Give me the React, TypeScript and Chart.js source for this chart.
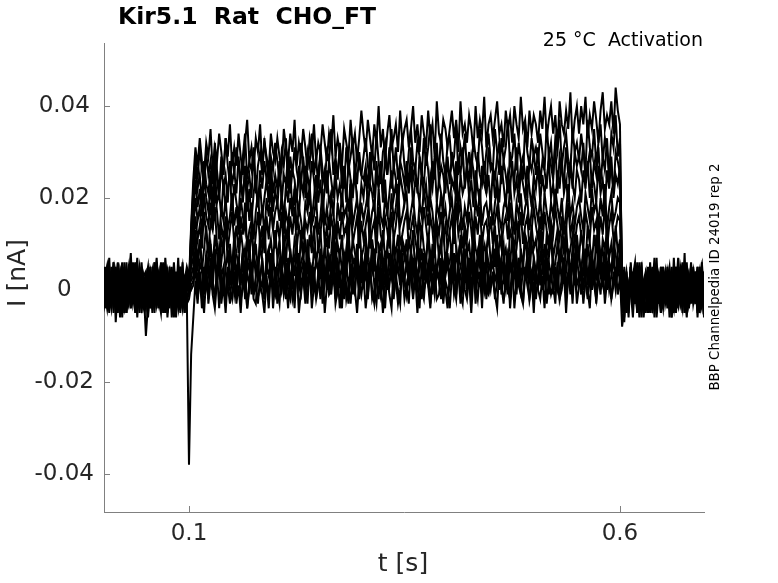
import { useEffect, useRef } from "react";
import { Chart, Plugin, registerables } from "chart.js";
Chart.register(...registerables);

// sample times of every sweep, in s
const times = [
  0, 0.0025, 0.005, 0.0075, 0.01, 0.0125, 0.015, 0.0175, 0.02, 0.0225, 0.025, 0.0275, 0.03, 0.0325, 0.035, 0.0375, 0.04, 0.0425, 0.045, 0.0475,
  0.05, 0.0525, 0.055, 0.0575, 0.06, 0.0625, 0.065, 0.0675, 0.07, 0.0725, 0.075, 0.0775, 0.08, 0.0825, 0.085, 0.0875, 0.09, 0.0925, 0.095, 0.0975,
  0.1, 0.1025, 0.105, 0.1075, 0.11, 0.1125, 0.115, 0.1175, 0.12, 0.1225, 0.125, 0.1275, 0.13, 0.1325, 0.135, 0.1375, 0.14, 0.1425, 0.145, 0.1475,
  0.15, 0.1525, 0.155, 0.1575, 0.16, 0.1625, 0.165, 0.1675, 0.17, 0.1725, 0.175, 0.1775, 0.18, 0.1825, 0.185, 0.1875, 0.19, 0.1925, 0.195, 0.1975,
  0.2, 0.2025, 0.205, 0.2075, 0.21, 0.2125, 0.215, 0.2175, 0.22, 0.2225, 0.225, 0.2275, 0.23, 0.2325, 0.235, 0.2375, 0.24, 0.2425, 0.245, 0.2475,
  0.25, 0.2525, 0.255, 0.2575, 0.26, 0.2625, 0.265, 0.2675, 0.27, 0.2725, 0.275, 0.2775, 0.28, 0.2825, 0.285, 0.2875, 0.29, 0.2925, 0.295, 0.2975,
  0.3, 0.3025, 0.305, 0.3075, 0.31, 0.3125, 0.315, 0.3175, 0.32, 0.3225, 0.325, 0.3275, 0.33, 0.3325, 0.335, 0.3375, 0.34, 0.3425, 0.345, 0.3475,
  0.35, 0.3525, 0.355, 0.3575, 0.36, 0.3625, 0.365, 0.3675, 0.37, 0.3725, 0.375, 0.3775, 0.38, 0.3825, 0.385, 0.3875, 0.39, 0.3925, 0.395, 0.3975,
  0.4, 0.4025, 0.405, 0.4075, 0.41, 0.4125, 0.415, 0.4175, 0.42, 0.4225, 0.425, 0.4275, 0.43, 0.4325, 0.435, 0.4375, 0.44, 0.4425, 0.445, 0.4475,
  0.45, 0.4525, 0.455, 0.4575, 0.46, 0.4625, 0.465, 0.4675, 0.47, 0.4725, 0.475, 0.4775, 0.48, 0.4825, 0.485, 0.4875, 0.49, 0.4925, 0.495, 0.4975,
  0.5, 0.5025, 0.505, 0.5075, 0.51, 0.5125, 0.515, 0.5175, 0.52, 0.5225, 0.525, 0.5275, 0.53, 0.5325, 0.535, 0.5375, 0.54, 0.5425, 0.545, 0.5475,
  0.55, 0.5525, 0.555, 0.5575, 0.56, 0.5625, 0.565, 0.5675, 0.57, 0.5725, 0.575, 0.5775, 0.58, 0.5825, 0.585, 0.5875, 0.59, 0.5925, 0.595, 0.5975,
  0.6, 0.6025, 0.605, 0.6075, 0.61, 0.6125, 0.615, 0.6175, 0.62, 0.6225, 0.625, 0.6275, 0.63, 0.6325, 0.635, 0.6375, 0.64, 0.6425, 0.645, 0.6475,
  0.65, 0.6525, 0.655, 0.6575, 0.66, 0.6625, 0.665, 0.6675, 0.67, 0.6725, 0.675, 0.6775, 0.68, 0.6825, 0.685, 0.6875, 0.69, 0.6925, 0.695, 0.6975,
  0.7,
];

// current of each sweep in pA, one value per sample time
const sweep1 = [
  3, -3, 1, 7, -4, 2, 0, -2, 4, -6, 1, 3, -1, 4, -3, 2, -4, 0, 6, -1,
  -2, 4, 0, -3, 2, 7, -1, 3, -5, 1, 2, -2, 4, -1, -6, 3, 1, -3, 2, 0,
  2,
  14, 24, 31, 27, 33, 28, 25, 32, 29, 35, 26, 31, 28, 34, 30, 25, 33, 29, 36, 27,
  31, 27, 34, 29, 25, 32, 37, 28, 31, 26, 33, 30, 36, 27, 32, 29, 26, 34, 30, 28,
  33, 29, 26, 35, 31, 28, 34, 30, 37, 27, 32, 29, 35, 31, 26, 33, 30, 36, 28, 32,
  30, 36, 32, 28, 34, 31, 38, 29, 33, 30, 27, 35, 32, 29, 37, 31, 34, 28, 33, 39,
  34, 30, 37, 33, 29, 36, 32, 40, 31, 35, 28, 34, 38, 31, 33, 36, 30, 39, 32, 35,
  37, 31, 35, 40, 32, 36, 30, 38, 34, 31, 39, 33, 36, 29, 41, 34, 32, 37, 35, 31,
  35, 39, 33, 37, 30, 41, 34, 36, 32, 38, 35, 30, 40, 33, 37, 34, 42, 31, 36, 38,
  33, 37, 41, 34, 36, 31, 39, 35, 38, 32, 40, 36, 33, 42, 35, 37, 31, 39, 34, 38,
  36, 32, 39, 35, 42, 33, 37, 40, 34, 38, 31, 41, 36, 34, 39, 35, 43, 32, 37, 40,
  34, 40, 36, 42, 33, 38, 35, 41, 37, 32, 39, 43, 35, 38, 36, 41, 34, 44, 39, 36,
  -2, -7, 3, -4, 6, -1, 2, -3, 0, 4, -6, 1, 3, -2, -4, 2, 7, -3, 1, -1,
  3, -2, 1, -6, 4, 0, -3, 2, 6, -1, -4, 3, 0, 2, -3, 5, -2, 1, -5, 3,
];
const sweep2 = [
  -6, 2, 4, -1, 3, -3, 1, 5, -2, 0, 3, -4, 2, 8, -3, 1, -1, 4, -2, 3,
  0, -5, 3, 2, -1, 6, -3, 1, 4, -2, 0, 3, -6, 1, 2, -3, 5, 0, -2, 3,
  -1,
  13, 22, 29, 24, 31, 26, 22, 30, 25, 28, 23, 32, 26, 21, 29, 25, 33, 27, 23, 30,
  25, 31, 27, 22, 29, 34, 24, 28, 26, 31, 21, 27, 30, 25, 33, 28, 23, 29, 26, 32,
  28, 24, 30, 27, 33, 22, 29, 25, 31, 26, 23, 32, 28, 24, 30, 27, 34, 25, 29, 22,
  31, 26, 23, 30, 28, 35, 25, 29, 24, 32, 27, 22, 31, 26, 29, 33, 24, 30, 27, 25,
  29, 33, 27, 24, 31, 26, 34, 28, 23, 30, 32, 25, 29, 35, 26, 31, 24, 28, 33, 27,
  24, 30, 35, 28, 26, 32, 29, 25, 33, 27, 31, 36, 24, 29, 30, 26, 34, 28, 25, 32,
  33, 27, 29, 36, 25, 31, 28, 34, 26, 30, 24, 33, 29, 27, 35, 31, 25, 30, 34, 28,
  26, 35, 30, 25, 33, 28, 31, 37, 27, 29, 34, 26, 32, 28, 24, 36, 30, 27, 33, 29,
  31, 28, 34, 30, 26, 36, 29, 32, 25, 33, 30, 37, 27, 31, 34, 28, 26, 35, 30, 32,
  28, 34, 30, 26, 37, 31, 29, 35, 27, 32, 36, 28, 33, 30, 25, 34, 31, 38, 29, 33,
  1, -4, 3, -1, 5, -3, 0, 2, -6, 4, -2, 1, 3, -3, 0, 7, -4, 2, -1, 3,
  -3, 0, 4, -6, 2, 1, -2, 5, -1, 3, -4, 0, 6, -2, 2, -3, 1, 4, -6, 0,
];
const sweep3 = [
  2, 0, -3, 4, -1, 6, -7, 1, 2, -2, 5, -4, 0, 3, -1, -3, 4, 1, -5, 2,
  -1, 3, -4, 0, 6, -2, 2, -3, 1, 4, -6, 0, 2, 3, -2, 7, -4, 1, 0, -3,
  1,
  12, 20, 27, 22, 25, 19, 28, 23, 21, 26, 18, 29, 24, 20, 27, 22, 25, 19, 28, 23,
  26, 21, 29, 24, 19, 27, 22, 25, 20, 30, 23, 18, 26, 22, 28, 24, 20, 27, 21, 25,
  22, 28, 19, 25, 23, 30, 21, 26, 24, 19, 27, 23, 29, 20, 25, 22, 28, 24, 18, 26,
  29, 23, 26, 21, 28, 24, 20, 27, 25, 31, 22, 26, 19, 28, 24, 21, 27, 23, 30, 25,
  24, 27, 22, 30, 25, 20, 28, 23, 26, 21, 29, 25, 31, 22, 27, 24, 20, 28, 26, 23,
  28, 22, 31, 24, 27, 21, 29, 25, 23, 30, 26, 20, 28, 24, 32, 23, 27, 25, 21, 29,
  23, 30, 26, 21, 28, 25, 31, 22, 27, 24, 29, 26, 20, 30, 25, 23, 28, 21, 31, 26,
  27, 24, 29, 32, 23, 28, 25, 21, 30, 26, 24, 31, 22, 27, 29, 25, 20, 28, 26, 30,
  25, 31, 23, 28, 26, 22, 30, 27, 24, 32, 21, 29, 26, 23, 31, 25, 28, 22, 30, 27,
  29, 26, 32, 24, 27, 30, 22, 28, 25, 31, 23, 29, 26, 33, 24, 27, 21, 30, 28, 25,
  -3, 1, 4, -2, 0, -6, 3, 2, -1, 6, -3, 0, 5, -4, 2, -2, 3, -1, -5, 1,
  4, -2, 1, 3, -4, 0, 7, -3, 2, -1, -6, 3, 1, 4, -2, 0, -3, 6, -1, 2,
];
const sweep4 = [
  -4, 1, 3, -2, 5, -3, 0, 4, -6, 2, -1, 3, 1, -4, 6, -2, 2, -3, 5, 0,
  2, -6, 1, 4, -3, 0, 3, -1, -4, 7, 1, -2, 3, -5, 0, 4, -3, 1, -2, 4,
  0,
  10, 17, 24, 18, 22, 16, 25, 20, 17, 23, 15, 26, 19, 21, 16, 24, 18, 22, 25, 17,
  23, 19, 16, 24, 20, 26, 17, 22, 15, 21, 25, 18, 23, 16, 20, 24, 19, 27, 17, 22,
  18, 25, 21, 15, 23, 19, 26, 17, 22, 20, 16, 24, 21, 27, 18, 23, 15, 20, 25, 19,
  24, 17, 22, 26, 19, 21, 16, 25, 20, 23, 18, 27, 22, 17, 24, 20, 26, 19, 16, 23,
  20, 26, 18, 23, 21, 17, 25, 22, 28, 19, 24, 16, 21, 26, 20, 23, 18, 25, 22, 19,
  25, 21, 27, 18, 24, 22, 19, 26, 20, 23, 17, 25, 22, 28, 19, 24, 21, 18, 26, 23,
  19, 24, 22, 28, 17, 25, 21, 23, 27, 20, 24, 18, 26, 22, 19, 27, 23, 21, 25, 18,
  26, 20, 24, 19, 27, 23, 18, 25, 22, 28, 21, 24, 19, 26, 23, 20, 27, 22, 18, 25,
  22, 27, 19, 25, 21, 24, 28, 20, 23, 18, 26, 22, 29, 21, 24, 19, 27, 23, 20, 26,
  24, 19, 26, 22, 28, 20, 25, 23, 19, 27, 21, 24, 18, 26, 22, 29, 20, 25, 23, 27,
  4, -2, 0, -5, 3, 1, -3, 6, -1, 2, -5, 3, 0, -2, 4, -6, 1, 2, -3, 0,
  -2, 3, -6, 1, 5, -1, 2, -3, 0, 6, -4, 1, 3, -2, -1, 4, -3, 0, 2, -5,
];
const sweep5 = [
  1, -4, 3, 0, -2, 6, -3, 2, 4, -1, 1, -5, 3, 2, -3, 0, 7, -2, -4, 1,
  -3, 2, 4, -1, 3, -4, 1, 6, -2, 0, -3, 4, 2, -6, 1, 3, -1, -4, 2, 5,
  3,
  8, 13, 20, 15, 18, 12, 21, 16, 14, 19, 13, 22, 17, 11, 18, 15, 20, 13, 16, 21,
  14, 18, 12, 20, 16, 13, 22, 15, 19, 11, 17, 21, 14, 18, 12, 20, 16, 23, 13, 17,
  19, 15, 21, 12, 17, 14, 20, 16, 22, 13, 18, 15, 11, 19, 17, 21, 14, 16, 20, 12,
  16, 22, 14, 18, 13, 20, 17, 11, 19, 15, 21, 16, 18, 12, 23, 14, 17, 20, 13, 19,
  15, 18, 21, 13, 17, 19, 12, 22, 16, 14, 20, 17, 13, 21, 15, 18, 23, 14, 16, 19,
  21, 13, 17, 20, 15, 12, 19, 16, 22, 18, 14, 20, 17, 11, 19, 16, 21, 15, 18, 13,
  17, 20, 14, 23, 16, 19, 13, 18, 15, 21, 17, 12, 20, 16, 22, 14, 18, 19, 15, 20,
  14, 19, 22, 16, 13, 18, 20, 15, 23, 17, 12, 19, 16, 21, 14, 18, 20, 13, 17, 22,
  18, 15, 20, 13, 21, 17, 14, 19, 16, 22, 18, 15, 20, 12, 17, 23, 16, 19, 14, 18,
  20, 16, 13, 21, 18, 15, 22, 17, 19, 14, 20, 16, 23, 13, 18, 21, 15, 17, 20, 19,
  -2, 5, -4, 1, -1, 3, 6, -3, 0, -6, 2, 4, -2, 1, -4, 3, 0, -1, 5, -3,
  3, -1, 1, -4, 7, -2, 0, 3, -5, 2, 4, -3, 1, -1, 3, -6, 2, 5, -2, 0,
];
const sweep6 = [
  -2, 3, 5, -4, 1, -1, 4, -3, 2, 6, -5, 0, 3, -2, 1, 4, -6, 2, -1, 3,
  4, -3, 1, 2, -5, 3, 0, -2, 6, -4, 1, 3, -1, -3, 4, 0, -5, 2, 3, -2,
  -1,
  6, 10, 16, 11, 14, 9, 17, 12, 8, 15, 13, 18, 10, 7, 14, 11, 16, 9, 13, 17,
  10, 14, 8, 16, 12, 19, 9, 13, 15, 7, 12, 17, 10, 14, 8, 16, 11, 18, 13, 9,
  15, 11, 17, 8, 13, 10, 16, 12, 18, 9, 14, 11, 7, 15, 13, 17, 10, 12, 16, 8,
  12, 18, 10, 14, 9, 16, 13, 7, 15, 11, 17, 12, 14, 8, 19, 10, 13, 16, 9, 15,
  11, 14, 17, 9, 13, 15, 8, 18, 12, 10, 16, 13, 9, 17, 11, 14, 19, 10, 12, 15,
  17, 9, 13, 16, 11, 8, 15, 12, 18, 14, 10, 16, 13, 7, 15, 12, 17, 11, 14, 9,
  13, 16, 10, 19, 12, 15, 9, 14, 11, 17, 13, 8, 16, 12, 18, 10, 14, 15, 11, 16,
  10, 15, 18, 12, 9, 14, 16, 11, 19, 13, 8, 15, 12, 17, 10, 14, 16, 9, 13, 18,
  14, 11, 16, 9, 17, 13, 10, 15, 12, 18, 14, 11, 16, 8, 13, 19, 12, 15, 10, 14,
  16, 12, 9, 17, 14, 11, 18, 13, 15, 10, 16, 12, 19, 9, 14, 17, 11, 13, 16, 15,
  3, -3, 1, -6, 4, 2, -2, 0, 6, -4, 1, 3, -3, 2, -1, 4, -6, 0, 3, -2,
  -1, 5, -3, 2, 0, -5, 3, 1, -2, 8, -5, 2, 0, 3, -3, 1, 4, -2, 0, 3,
];
const sweep7 = [
  5, -1, -4, 2, 3, -3, 0, 6, -2, 4, -5, 1, 2, -3, 5, -1, -2, 4, -4, 2,
  -1, 4, 2, -5, 0, 3, -2, 5, -3, 1, 4, -1, -4, 3, 0, 2, -3, 6, -2, 1,
  1,
  5, 7, 13, 6, 11, 4, 9, 14, 7, 10, 5, 12, 8, 3, 11, 9, 14, 6, 10, 4,
  12, 8, 5, 13, 9, 3, 11, 7, 14, 6, 10, 4, 12, 9, 15, 5, 8, 11, 6, 13,
  7, 10, 4, 12, 6, 14, 8, 5, 11, 9, 3, 13, 7, 10, 5, 12, 8, 14, 6, 9,
  13, 5, 9, 11, 4, 8, 14, 6, 10, 7, 12, 3, 9, 13, 6, 11, 8, 5, 15, 7,
  9, 12, 6, 14, 8, 4, 11, 10, 5, 13, 7, 9, 15, 4, 10, 8, 12, 6, 11, 9,
  5, 11, 8, 13, 3, 10, 7, 14, 9, 6, 12, 8, 4, 11, 13, 7, 9, 15, 5, 10,
  12, 7, 15, 9, 6, 11, 4, 13, 8, 10, 5, 14, 9, 7, 12, 3, 10, 8, 13, 6,
  8, 14, 5, 10, 12, 7, 9, 4, 13, 11, 6, 9, 15, 8, 5, 12, 10, 7, 14, 9,
  11, 6, 13, 8, 4, 12, 9, 15, 7, 10, 13, 5, 11, 8, 14, 6, 9, 12, 4, 10,
  7, 13, 9, 5, 14, 10, 6, 12, 8, 15, 4, 11, 9, 13, 7, 10, 5, 14, 8, 11,
  -5, 3, -2, 1, 4, -3, 0, 5, -4, 2, -1, 3, -5, 0, 4, -2, 1, -3, 5, -1,
  2, -4, 0, 3, -2, 5, -3, 1, -1, 4, -5, 2, 3, -3, 1, 5, -2, -4, 3, 0,
];
const sweep8 = [
  -2, 5, 1, -3, 4, -5, 2, 0, 3, -2, -4, 4, 1, -1, 5, -3, 2, -5, 3, 1,
  3, 0, -4, 5, -1, 2, 4, -3, 1, -5, 3, 2, -2, 6, -1, -4, 2, 5, -3, 0,
  0,
  3, 5, 9, 4, 11, 6, 2, 8, 5, 10, 3, 7, 1, 9, 6, 11, 4, 2, 8, 5,
  10, 3, 7, 1, 6, 9, 4, 11, 2, 8, 5, 3, 10, 6, 1, 7, 9, 4, 8, 2,
  6, 11, 3, 8, 5, 1, 9, 4, 7, 10, 2, 6, 8, 3, 11, 5, 2, 9, 6, 4,
  8, 2, 10, 5, 7, 3, 11, 6, 1, 9, 4, 8, 6, 12, 3, 7, 5, 10, 2, 8,
  4, 9, 6, 2, 11, 7, 3, 8, 10, 5, 1, 9, 6, 4, 12, 3, 8, 5, 10, 7,
  11, 3, 8, 6, 1, 10, 5, 9, 2, 7, 12, 4, 6, 9, 3, 8, 11, 2, 7, 5,
  6, 10, 2, 8, 5, 12, 4, 7, 9, 1, 6, 11, 3, 8, 5, 10, 2, 9, 6, 4,
  9, 5, 12, 3, 7, 10, 2, 8, 6, 11, 4, 7, 1, 9, 5, 12, 6, 3, 10, 7,
  2, 8, 11, 6, 4, 9, 7, 12, 3, 6, 10, 5, 8, 2, 11, 7, 4, 9, 6, 12,
  7, 4, 9, 1, 10, 6, 8, 3, 12, 5, 7, 9, 2, 11, 6, 4, 10, 8, 3, 9,
  1, -5, 4, -2, 2, -4, 5, 0, -3, 3, -1, -5, 2, 4, -2, 1, -4, 3, 0, 5,
  -3, 2, 5, -1, -4, 3, 1, -2, 4, -5, 0, 3, -3, 5, 1, -2, -4, 2, 4, -1,
];
const sweep9 = [
  3, -3, 0, 5, -2, 1, 4, -4, 2, -1, 3, -5, 1, 4, -3, 6, -2, 0, 2, -4,
  1, -2, 5, -4, 3, 0, -3, 2, 4, -1, -3, 5, 1, -4, 2, 3, -2, 0, -5, 4,
  2,
  2, 3, 8, 1, 6, 4, -1, 7, 3, 5, 0, 9, 2, 6, 4, -1, 5, 8, 2, 4,
  7, 0, 5, 3, 9, 1, 4, 6, -1, 8, 3, 5, 2, 7, 0, 4, 9, 2, 6, 3,
  0, 6, 4, 8, 2, 5, -1, 7, 3, 9, 1, 4, 6, 0, 8, 3, 5, 2, 7, 4,
  9, 2, 5, 0, 7, 4, 8, 1, 6, 3, -1, 7, 4, 9, 2, 5, 3, 8, 0, 6,
  3, 8, 1, 6, 4, 9, 2, 5, 0, 7, 4, 2, 8, 3, 6, 1, 9, 4, 5, 2,
  6, 1, 9, 3, 5, 0, 7, 4, 8, 2, 6, 3, 10, 1, 5, 7, 2, 6, 4, 8,
  2, 7, 4, 0, 8, 5, 3, 9, 1, 6, 4, 7, 2, 5, 9, 3, 0, 8, 4, 6,
  5, 9, 2, 7, 3, 6, 0, 8, 4, 5, 9, 1, 7, 3, 6, 2, 8, 5, 1, 7,
  4, 1, 8, 5, 10, 2, 6, 3, 7, 0, 5, 8, 2, 6, 4, 9, 3, 7, 1, 6,
  8, 3, 5, 9, 1, 7, 4, 6, 2, 10, 3, 5, 8, 0, 6, 4, 9, 2, 7, 5,
  -4, 1, 3, -3, 5, -1, 2, -5, 0, 4, -2, 3, -4, 1, 5, -3, 0, 2, -1, -4,
  4, -1, -3, 2, 0, 5, -4, 1, 3, -2, 6, -3, 0, -1, 4, -5, 2, 3, -2, 1,
];
const sweep10 = [
  -1, 4, -4, 2, 0, -3, 5, 1, -5, 3, -2, 2, 5, -4, 0, 3, -3, 1, 4, -1,
  -4, 3, 1, -2, 6, -3, 0, 4, -1, -5, 2, 4, -2, 1, -4, 5, -1, 3, 0, -3,
  -2,
  1, 2, 6, 0, 4, -2, 5, 1, -1, 7, 2, -2, 4, 6, 0, 3, -3, 5, 1, 7,
  2, -1, 5, 3, 8, -2, 4, 1, 6, -1, 3, 7, 0, 2, -2, 5, 3, 8, 1, -1,
  4, 6, 0, 3, -2, 7, 2, 5, -1, 4, 8, 1, 3, -1, 6, 2, 0, 5, -2, 4,
  7, 1, 3, 6, -1, 4, 2, 8, 0, 3, 5, -2, 6, 1, 4, -1, 7, 3, 0, 5,
  2, 6, -1, 4, 8, 1, 3, -2, 5, 2, 7, 0, 4, 6, -1, 3, 5, 1, 8, 2,
  -1, 5, 3, 7, 0, 4, 2, -2, 6, 3, 1, 8, -1, 4, 5, 2, 7, 0, 3, 6,
  1, 4, 8, -1, 5, 3, 0, 6, 2, 7, -2, 4, 1, 5, 8, 0, 3, 6, -1, 4,
  6, 2, 4, 0, 7, 3, 5, -1, 8, 2, 4, 6, 1, -1, 5, 3, 7, 2, 4, 0,
  3, 7, 1, 5, 2, 8, -1, 4, 6, 2, 0, 5, 3, 7, 1, 4, -1, 6, 3, 8,
  2, 5, 0, 6, 4, 1, 7, 3, -1, 5, 8, 2, 4, 6, 0, 3, 7, 1, 5, 4,
  2, -6, 3, -1, 0, 4, -3, 1, 5, -2, -4, 3, 0, 2, -5, 4, -1, 1, -3, 5,
  -2, 4, 1, -5, 3, 0, -3, 5, 2, -1, 4, -4, 1, 3, -2, 0, 5, -3, 2, -1,
];
const sweep11 = [
  4, -2, 1, -5, 3, 5, -3, 0, 2, -4, 6, -1, -3, 2, 4, -5, 1, 3, -2, -4,
  2, 5, -3, 1, -1, 4, -2, -5, 3, 0, 2, -4, 5, -1, 1, -3, 4, 2, -5, 3,
  1,
  0, 1, 5, -2, 3, -4, 1, 6, -3, 2, 0, -1, 4, -4, 3, 5, -2, 1, -3, 4,
  -1, 3, 6, -2, 0, 4, -4, 2, 5, -1, 1, -3, 3, 6, -2, 2, -4, 4, 0, 5,
  -3, 2, 4, -1, 6, 0, -2, 3, -4, 5, 1, -1, 4, 2, -3, 6, 0, 3, -2, 1,
  5, -3, 2, 4, -1, 0, 6, -2, 3, -4, 2, 5, 1, -3, 4, 0, -1, 6, -2, 3,
  1, 4, -2, 5, 0, -3, 3, 6, -1, 2, -4, 4, 1, 5, -2, 3, 0, -3, 6, 2,
  -1, 5, 3, -2, 4, 1, -4, 6, 0, 2, 5, -3, 3, -1, 4, 2, -2, 5, 0, -4,
  3, 6, -1, 2, 4, -3, 5, 0, -2, 3, 1, 6, -3, 4, 2, -1, 5, -2, 3, 0,
  4, -2, 2, 6, -1, 3, 0, 5, -4, 2, 4, -1, 6, 1, -3, 3, 5, -2, 1, 4,
  -2, 3, 5, 0, 6, -3, 2, 4, -1, 5, 1, -2, 3, 7, -1, 2, 4, -3, 6, 1,
  3, -1, 5, 2, -2, 6, 0, 4, -3, 3, 5, 1, -1, 6, 2, -2, 4, 0, 5, 2,
  -3, 2, -5, 1, 4, -2, 0, -4, 3, 5, -3, 1, -1, -5, 2, 4, -2, 0, 3, -4,
  1, -3, 4, 2, -5, 0, 3, -1, -4, 5, -2, 1, 3, -3, 0, 4, -5, 2, -1, 3,
];
const sweep12 = [
  -3, 2, 5, -1, -4, 3, 0, -5, 4, 1, -2, 6, -3, -1, 3, -4, 2, 5, -2, 0,
  -10, -3, 4, 1, -2, 5, -4, 2, -1, 3, -5, 0, 4, -3, 2, -1, 5, -4, 1, -2,
  -38,
  -14, -6, 2, -3, 4, 0, -5, 3, -2, 5, -1, -4, 2, 6, -3, 1, -5, 3, 0, -2,
  4, -3, 1, -5, 3, 2, -4, 0, 5, -2, -3, 4, 1, -1, -5, 3, -2, 6, -4, 2,
  0, -3, 5, -1, 2, -4, 3, -2, 1, 4, -5, 0, 3, -3, 2, 5, -4, 1, -1, 3,
  -2, 4, -5, 1, 3, -1, 5, -3, 0, 2, -4, 6, -2, 1, -3, 4, 0, -5, 2, -1,
  3, -4, 1, 5, -2, 0, -3, 4, 2, -5, 1, 3, -1, -4, 5, 2, -3, 0, 4, -2,
  1, -3, 6, -1, 3, -5, 2, 0, -2, 4, 1, -4, 3, 5, -2, -1, 4, -3, 2, 0,
  -4, 3, 1, -2, 5, -1, -3, 4, 0, 2, -5, 3, 1, -2, 4, -4, 6, 0, -1, 3,
  2, -1, -4, 5, 1, -3, 3, 0, -2, 6, -4, 2, 4, -1, -3, 5, 1, -2, 3, -5,
  4, 0, -2, 3, -4, 5, 2, -1, 1, -3, 6, -2, 0, 4, -5, 3, 2, -1, 5, -3,
  1, 4, -3, 2, 0, -4, 5, 1, -2, 3, -1, 6, -3, 2, 4, -2, 1, 5, -1, 3,
  -8, -4, 2, -3, 5, -1, 3, -5, 0, 4, -2, 1, -4, 6, -3, 2, -1, 4, -5, 1,
  3, -2, 0, 5, -4, 2, -1, -3, 4, 1, -5, 3, -2, 0, 4, -3, 2, 5, -4, -1,
];

const sweeps = [
  sweep1, sweep2, sweep3, sweep4, sweep5, sweep6,
  sweep7, sweep8, sweep9, sweep10, sweep11, sweep12,
];

const xTicks = [0.1, 0.6];
const yTicks = [-0.04, -0.02, 0, 0.02, 0.04];

const titleText = "Kir5.1  Rat  CHO_FT";
const conditionText = "25 °C  Activation";
const sourceText = "BBP Channelpedia ID 24019 rep 2";
const xLabel = "t [s]";
const yLabel = "I [nA]";

const FONT = "'DejaVu Sans', sans-serif";
const AXIS_COLOR = "#808080";
const TEXT_COLOR = "#262626";

const decorations: Plugin<"line"> = {
  id: "decorations",
  beforeDatasetsDraw(chart) {
    // inward tick marks, like the original figure
    const { ctx, chartArea, scales } = chart;
    ctx.save();
    ctx.strokeStyle = AXIS_COLOR;
    ctx.lineWidth = 1;
    ctx.beginPath();
    for (const v of xTicks) {
      const x = Math.round(scales.x.getPixelForValue(v)) + 0.5;
      ctx.moveTo(x, chartArea.bottom);
      ctx.lineTo(x, chartArea.bottom - 6);
    }
    for (const v of yTicks) {
      const y = Math.round(scales.y.getPixelForValue(v)) + 0.5;
      ctx.moveTo(chartArea.left, y);
      ctx.lineTo(chartArea.left + 6, y);
    }
    ctx.stroke();
    ctx.restore();
  },
  afterDraw(chart) {
    const { ctx } = chart;
    ctx.save();
    ctx.textBaseline = "middle";

    ctx.fillStyle = "#000";
    ctx.font = `bold 23.5px ${FONT}`;
    ctx.textAlign = "left";
    ctx.fillText(titleText, 118, 18);

    ctx.font = `19px ${FONT}`;
    ctx.textAlign = "right";
    ctx.fillText(conditionText, 703, 41);

    ctx.fillStyle = TEXT_COLOR;
    ctx.font = `25px ${FONT}`;
    ctx.textAlign = "center";
    ctx.fillText(xLabel, 403, 564);

    ctx.save();
    ctx.translate(18, 273);
    ctx.rotate(-Math.PI / 2);
    ctx.fillText(yLabel, 0, 0);
    ctx.restore();

    ctx.save();
    ctx.fillStyle = "#000";
    ctx.font = `13.4px ${FONT}`;
    ctx.translate(716, 277);
    ctx.rotate(-Math.PI / 2);
    ctx.fillText(sourceText, 0, 0);
    ctx.restore();

    ctx.restore();
  },
};

export default function App() {
  const ref = useRef<HTMLCanvasElement>(null);

  useEffect(() => {
    document.body.style.margin = "0";
    const chart = new Chart(ref.current!, {
      type: "line",
      data: {
        datasets: sweeps.map((sweep) => ({
          data: times.map((t, i) => ({ x: t, y: sweep[i] / 1000 })),
          borderColor: "#000",
          borderWidth: 2,
          pointRadius: 0,
          tension: 0,
        })),
      },
      options: {
        animation: false,
        responsive: false,
        events: [],
        layout: { padding: { left: 0, top: 43, right: 74, bottom: 0 } },
        plugins: { legend: { display: false }, tooltip: { enabled: false }, title: { display: false } },
        scales: {
          x: {
            type: "linear",
            min: 0.0014,
            max: 0.6975,
            afterBuildTicks: (scale) => {
              scale.ticks = xTicks.map((value) => ({ value }));
            },
            afterFit: (scale) => {
              scale.height = 71;
            },
            grid: { display: false, drawTicks: false },
            border: { display: true, color: AXIS_COLOR, width: 1 },
            ticks: {
              color: TEXT_COLOR,
              font: { family: FONT, size: 23 },
              padding: 8,
              maxRotation: 0,
              autoSkip: false,
              callback: (value) => String(value),
            },
          },
          y: {
            type: "linear",
            min: -0.0483,
            max: 0.0537,
            afterBuildTicks: (scale) => {
              scale.ticks = yTicks.map((value) => ({ value }));
            },
            afterFit: (scale) => {
              scale.width = 104;
            },
            grid: { display: false, drawTicks: false },
            border: { display: true, color: AXIS_COLOR, width: 1 },
            ticks: {
              color: TEXT_COLOR,
              font: { family: FONT, size: 23 },
              padding: 10,
              crossAlign: "center",
              autoSkip: false,
              callback: (value) => String(value),
            },
          },
        },
      },
      plugins: [decorations],
    });
    return () => chart.destroy();
  }, []);

  return <canvas ref={ref} width={778} height={583} style={{ display: "block" }} />;
}
